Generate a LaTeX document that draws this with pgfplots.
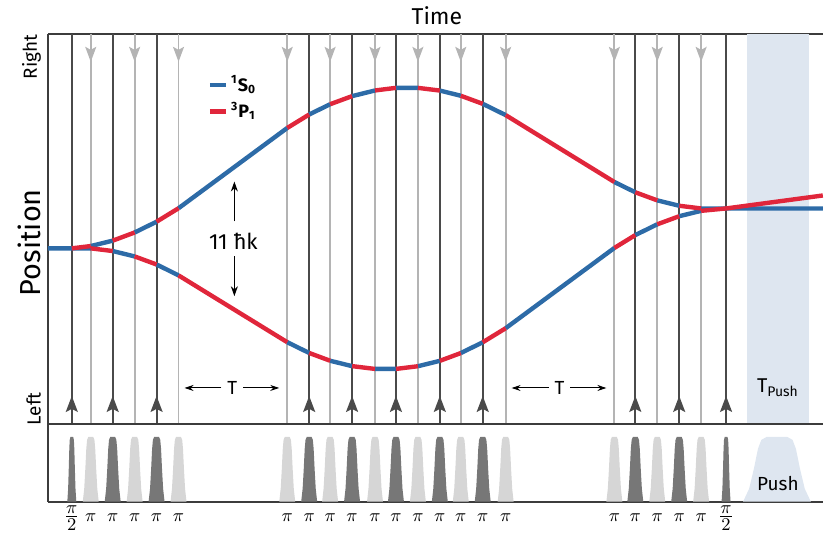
\documentclass[border=0pt]{standalone}
\usepackage{fontspec}
\setmainfont{Fira Sans}
\usepackage{pgfplots}
\usepackage{pgfplotstable}
\pgfplotsset{compat=1.18}
\usetikzlibrary{arrows.meta}

\definecolor{s0c}{HTML}{2D6BA7}
\definecolor{p1c}{HTML}{E0263B}
\definecolor{darkl}{HTML}{4A4A4A}
\definecolor{lightl}{HTML}{B4B4B4}
\definecolor{darkp}{HTML}{777777}
\definecolor{lightp}{HTML}{D6D6D6}
\definecolor{pushc}{HTML}{DEE6F0}
\definecolor{framec}{HTML}{3C3C3C}

% pixel coordinates: x = pixel x, y = 535 - pixel y
% pulse positions
\pgfplotstableread{
x y
72 110
113 110
157 110
310 110
353 110
397 110
441 110
484 110
637 110
681 110
728 110
}\darklines
\pgfplotstableread{
x y
91 501
135 501
179 501
288 501
331 501
376 501
419 501
462 501
507 501
616 501
659 501
703 501
}\lightlines
% normalised pulse shape
\pgfplotstableread{
x y
-1 32
-0.82 45
-0.68 65
-0.56 85
-0.46 94
-0.3 97
0.3 97
0.46 94
0.56 85
0.68 65
0.82 45
1 32
}\pulseshape

\newcommand{\pulse}[3]{\addplot[fill=#3, draw=none, forget plot, x filter/.expression={#1+#2*x}] table {\pulseshape};}
\newcommand{\half}{{\fontsize{12.5}{14}\selectfont$\frac{\pi}{2}$}}

\begin{document}
\begin{tikzpicture}
\begin{axis}[
    name=top,
    x=0.5pt, y=0.5pt,
    xmin=48, xmax=825, ymin=110, ymax=501,
    axis x line=top, axis y line=left,
    axis line style={-, draw=framec, line width=1pt},
    xtick=\empty,
    ytick={125,478}, yticklabels={Left,Right},
    major tick length=0pt,
    yticklabel style={rotate=90, anchor=south, font=\fontsize{9.5}{11}\selectfont},
    xlabel={Time},
    xlabel style={font=\fontsize{11.5}{13}\selectfont, at={(axis description cs:0.502,1)}, anchor=center, yshift=9pt},
    ylabel={Position},
    ylabel style={font=\fontsize{14.5}{16}\selectfont, at={(axis description cs:-0.024,0.465)}, anchor=center},
    clip=false,
    unbounded coords=jump,
    legend style={draw=none, fill=none, at={(axis description cs:0.198,0.912)}, anchor=north west,
        font=\fontsize{9}{10}\selectfont\bfseries, row sep=0.5pt, nodes={inner sep=1.6pt}},
    legend cell align=left,
    legend image code/.code={\draw[#1] (0pt,0pt) -- (8pt,0pt);},
]
\addlegendimage{s0c, line width=2.2pt}
\addlegendentry{\textsuperscript{1}S\textsubscript{0}}
\addlegendimage{p1c, line width=2.2pt}
\addlegendentry{\textsuperscript{3}P\textsubscript{1}}

% push window
\addplot[fill=pushc, draw=none, forget plot] coordinates {(749,110) (811,110) (811,501) (749,501)} -- cycle;

% laser pulse lines
\addplot[darkl, line width=1pt, forget plot, quiver={u=0, v=391}] table {\darklines};
\addplot[lightl, line width=0.9pt, forget plot, quiver={u=0, v=-391}] table {\lightlines};

% 1S0 segments
\addplot[s0c, line width=2.2pt, forget plot] coordinates {
(48,286) (91,286) (91,nan)
(91,288.3) (113,293.7) (113,nan)
(135,301.9) (157,312.7) (157,nan)
(179,326.2) (288,406.7) (288,nan)
(310,420.2) (331,430.5) (331,nan)
(353,438.6) (376,444.3) (376,nan)
(397,446.9) (419,446.9) (419,nan)
(441,444.2) (462,439.0) (462,nan)
(484,430.9) (507,419.6) (507,nan)
(616,352.5) (637,342.2) (637,nan)
(659,334.1) (681,328.7) (681,nan)
(703,326.0) (825,326.0) (825,nan)
(113,283.3) (135,277.9) (135,nan)
(157,269.8) (179,258.9) (179,nan)
(288,191.9) (310,181.1) (310,nan)
(331,173.3) (353,167.9) (353,nan)
(376,165.1) (397,165.1) (397,nan)
(419,167.8) (441,173.2) (441,nan)
(462,181.0) (484,191.8) (484,nan)
(507,205.9) (616,286.4) (616,nan)
(637,299.3) (659,310.1) (659,nan)
(681,318.2) (703,323.6)
};
% 3P1 segments
\addplot[p1c, line width=2.2pt, forget plot] coordinates {
(72,286) (91,288.3) (91,nan)
(113,293.7) (135,301.9) (135,nan)
(157,312.7) (179,326.2) (179,nan)
(288,406.7) (310,420.2) (310,nan)
(331,430.5) (353,438.6) (353,nan)
(376,444.3) (397,446.9) (397,nan)
(419,446.9) (441,444.2) (441,nan)
(462,439.0) (484,430.9) (484,nan)
(507,419.6) (616,352.5) (616,nan)
(637,342.2) (659,334.1) (659,nan)
(681,328.7) (703,326.0) (703,nan)
(728,326.0) (825,339.0) (825,nan)
(91,286) (113,283.3) (113,nan)
(135,277.9) (157,269.8) (157,nan)
(179,258.9) (288,191.9) (288,nan)
(310,181.1) (331,173.3) (331,nan)
(353,167.9) (376,165.1) (376,nan)
(397,165.1) (419,167.8) (419,nan)
(441,173.2) (462,181.0) (462,nan)
(484,191.8) (507,205.9) (507,nan)
(616,286.4) (637,299.3) (637,nan)
(659,310.1) (681,318.2) (681,nan)
(703,323.6) (728,326.0)
};

% beam direction arrows
\addplot[darkl, line width=1pt, forget plot, quiver={u=0, v=28},
    -{Stealth[length=8pt, width=6pt, inset=1.5pt]}] table {\darklines};
\addplot[lightl, line width=0.9pt, forget plot, quiver={u=0, v=-28},
    -{Stealth[length=7.5pt, width=5.5pt, inset=1.5pt]}] table {\lightlines};

% annotations
\node[font=\fontsize{11}{13}\selectfont] at (axis cs:234,293) {11 ħk};
\draw[-{Stealth[length=5pt, width=3.5pt]}, line width=0.7pt] (axis cs:235,313) -- (axis cs:235,353);
\draw[-{Stealth[length=5pt, width=3.5pt]}, line width=0.7pt] (axis cs:235,278) -- (axis cs:235,238);

\node[font=\fontsize{9.5}{11}\selectfont] at (axis cs:233,146) {T};
\draw[-{Stealth[length=4.5pt, width=3pt]}, line width=0.5pt] (axis cs:222,146) -- (axis cs:185,146);
\draw[-{Stealth[length=4.5pt, width=3pt]}, line width=0.5pt] (axis cs:244,146) -- (axis cs:280,146);
\node[font=\fontsize{9.5}{11}\selectfont] at (axis cs:561,146) {T};
\draw[-{Stealth[length=4.5pt, width=3pt]}, line width=0.5pt] (axis cs:550,146) -- (axis cs:513,146);
\draw[-{Stealth[length=4.5pt, width=3pt]}, line width=0.5pt] (axis cs:572,146) -- (axis cs:608,146);

\node[font=\fontsize{10}{12}\selectfont] at (axis cs:780,146) {T\textsubscript{Push}};

\path (axis cs:0,0) rectangle (axis cs:825,535);
\end{axis}

\begin{axis}[
    at={(top.south west)}, anchor=north west,
    x=0.5pt, y=0.5pt,
    xmin=48, xmax=825, ymin=32, ymax=110,
    axis x line=box, axis y line=left,
    axis line style={-, draw=framec, line width=1pt},
    ytick=\empty,
    xtick={72,91,113,135,157,179,288,310,331,353,376,397,419,441,462,484,507,616,637,659,681,703,728},
    xticklabels={\half,$\pi$,$\pi$,$\pi$,$\pi$,$\pi$,
        $\pi$,$\pi$,$\pi$,$\pi$,$\pi$,$\pi$,$\pi$,$\pi$,$\pi$,$\pi$,$\pi$,
        $\pi$,$\pi$,$\pi$,$\pi$,$\pi$,\half},
    major tick length=0pt,
    xticklabel style={anchor=center, yshift=-8.2pt, font=\fontsize{9.5}{11}\selectfont},
    clip=false,
]
\pulse{72}{4.5}{darkp}
\pulse{91}{8}{lightp}
\pulse{113}{8}{darkp}
\pulse{135}{8}{lightp}
\pulse{157}{8}{darkp}
\pulse{179}{8}{lightp}
\pulse{288}{8}{lightp}
\pulse{310}{8}{darkp}
\pulse{331}{8}{lightp}
\pulse{353}{8}{darkp}
\pulse{376}{8}{lightp}
\pulse{397}{8}{darkp}
\pulse{419}{8}{lightp}
\pulse{441}{8}{darkp}
\pulse{462}{8}{lightp}
\pulse{484}{8}{darkp}
\pulse{507}{8}{lightp}
\pulse{616}{8}{lightp}
\pulse{637}{8}{darkp}
\pulse{659}{8}{lightp}
\pulse{681}{8}{darkp}
\pulse{703}{8}{lightp}
\pulse{728}{4.5}{darkp}
\pulse{779}{34}{pushc}
\node[font=\fontsize{9.5}{11}\selectfont] at (axis cs:780,50) {Push};
\end{axis}
\end{tikzpicture}
\end{document}
